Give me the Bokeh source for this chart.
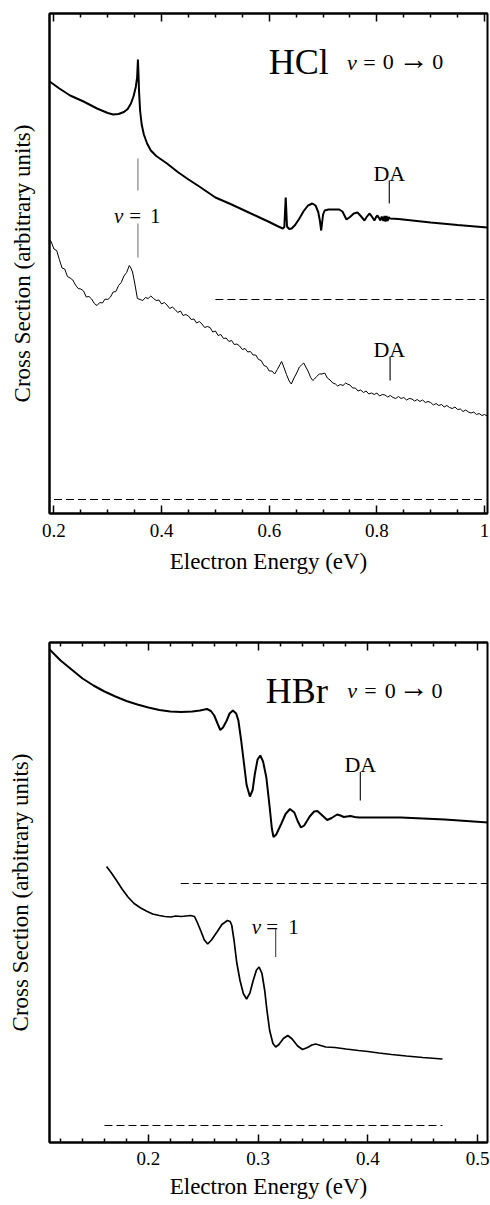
from bokeh.plotting import figure
from bokeh.models import LinearAxis, FixedTicker, Range1d
from bokeh.layouts import column
from bokeh.core.properties import value
from bokeh.embed import file_html
from bokeh.resources import INLINE

FONT = "Liberation Serif"
AXIS_FONT = "'Liberation Serif', serif"

# ---------------- HCl data ----------------
hcl_theory_x = [0.192, 0.21, 0.23, 0.255, 0.28, 0.30, 0.31, 0.32, 0.33, 0.337, 0.343, 0.348, 0.352,
                0.3545, 0.356, 0.357, 0.358, 0.36, 0.363, 0.367, 0.373, 0.38, 0.39, 0.41, 0.43, 0.45,
                0.47, 0.50, 0.53, 0.56, 0.58, 0.60, 0.615, 0.625, 0.628, 0.6306, 0.633, 0.637, 0.6417,
                0.648, 0.656, 0.664, 0.672, 0.68, 0.686, 0.691, 0.694, 0.6965, 0.698, 0.70, 0.703,
                0.71, 0.72, 0.73, 0.736, 0.7435, 0.75, 0.757, 0.7639, 0.77, 0.7769, 0.781, 0.7861,
                0.79, 0.7954, 0.798, 0.801, 0.804, 0.8065, 0.809, 0.812, 0.814, 0.816, 0.818, 0.82,
                0.822, 0.824, 0.84, 0.90, 0.95, 1.005]
hcl_theory_y = [86.4, 85.0, 83.6, 82.4, 81.0, 80.1, 79.8, 79.9, 80.3, 80.9, 82.0, 83.5, 85.3,
                87.2, 90.8, 88.0, 84.6, 80.6, 77.8, 75.8, 74.0, 72.6, 71.5, 70.0, 68.3, 66.8,
                65.4, 63.2, 61.8, 60.3, 59.3, 58.3, 57.5, 57.0, 57.3, 63.2, 57.4, 56.9, 57.0,
                57.7, 59.0, 60.5, 61.6, 62.0, 61.6, 60.3, 58.6, 56.6, 58.0, 59.8, 60.6,
                60.8, 60.8, 60.8, 60.4, 58.8, 59.3, 60.0, 60.2, 59.5, 58.6, 59.3, 60.0,
                59.5, 58.6, 59.2, 59.6, 59.1, 58.6, 59.4, 58.5, 59.5, 58.4, 59.5, 58.5,
                59.3, 59.0, 58.9, 58.2, 57.7, 57.2]

hcl_exp_x = [0.192, 0.195, 0.200, 0.205, 0.210, 0.215, 0.220, 0.225, 0.230, 0.235, 0.240, 0.245,
             0.250, 0.255, 0.260, 0.265, 0.270, 0.275, 0.280, 0.285, 0.290, 0.295, 0.300, 0.305,
             0.310, 0.315, 0.320, 0.325, 0.330, 0.335, 0.340, 0.343, 0.346, 0.350, 0.355, 0.360,
             0.365, 0.370, 0.375, 0.380, 0.385, 0.390, 0.395, 0.400, 0.405, 0.410, 0.415, 0.420,
             0.425, 0.430, 0.435, 0.440, 0.445, 0.450, 0.455, 0.460, 0.465, 0.470, 0.475, 0.480,
             0.485, 0.490, 0.495, 0.500, 0.505, 0.510, 0.515, 0.520, 0.525, 0.530, 0.535, 0.540,
             0.545, 0.550, 0.555, 0.560, 0.565, 0.570, 0.575, 0.580, 0.585, 0.590, 0.595, 0.600,
             0.605, 0.610, 0.615, 0.620, 0.623, 0.627, 0.632, 0.637, 0.641, 0.646, 0.651, 0.656,
             0.660, 0.664, 0.668, 0.672, 0.677, 0.681, 0.684, 0.688, 0.693, 0.698, 0.703, 0.708,
             0.713, 0.718, 0.723, 0.727, 0.732, 0.737, 0.742, 0.745, 0.750, 0.755, 0.760, 0.765,
             0.770, 0.775, 0.780, 0.785, 0.790, 0.795, 0.800, 0.805, 0.810, 0.815, 0.820, 0.825,
             0.830, 0.835, 0.840, 0.845, 0.850, 0.855, 0.860, 0.865, 0.870, 0.875, 0.880, 0.885,
             0.890, 0.895, 0.900, 0.905, 0.910, 0.915, 0.920, 0.925, 0.930, 0.935, 0.940, 0.945,
             0.950, 0.955, 0.960, 0.965, 0.970, 0.975, 0.980, 0.985, 0.990, 0.995, 1.000, 1.005]
hcl_exp_y = [54.8, 54.3, 52.9, 52.6, 50.8, 49.1, 48.9, 47.4, 47.1, 46.7, 45.7, 45.0,
             44.9, 44.5, 43.3, 43.4, 42.9, 42.0, 41.6, 42.2, 42.1, 42.9, 42.8, 43.3,
             44.3, 44.4, 45.6, 46.2, 47.5, 48.2, 49.6, 49.1, 48.3, 46.1, 43.0, 42.8,
             42.6, 43.2, 43.0, 43.5, 43.0, 42.6, 42.7, 41.9, 42.2, 41.7, 41.0, 41.3,
             40.8, 40.2, 40.5, 39.6, 39.8, 39.5, 38.8, 38.9, 38.1, 38.4, 37.9, 37.2,
             37.4, 37.2, 36.3, 36.5, 35.6, 35.8, 35.0, 35.1, 34.4, 34.6, 33.8, 33.9,
             33.5, 32.8, 33.0, 32.3, 32.4, 31.7, 31.7, 30.8, 30.6, 29.6, 29.4, 28.5,
             28.5, 27.9, 28.8, 29.8, 30.4, 29.3, 27.8, 26.5, 25.9, 27.1, 28.1, 29.3,
             29.7, 30.1, 29.3, 28.5, 27.2, 26.6, 26.9, 27.4, 27.9, 27.9, 28.1, 27.1,
             26.7, 26.1, 25.9, 25.5, 25.8, 25.6, 26.1, 25.9, 25.7, 25.1, 25.1, 24.5,
             24.7, 24.2, 24.5, 23.9, 24.1, 23.8, 24.1, 23.5, 23.8, 23.7, 23.3, 23.6,
             23.2, 23.0, 23.4, 23.0, 23.2, 22.7, 23.0, 22.9, 22.5, 22.8, 22.4, 22.7,
             22.2, 22.4, 22.2, 21.7, 22.0, 21.6, 21.8, 21.3, 21.6, 21.2, 21.0, 21.3,
             20.8, 20.9, 20.4, 20.7, 20.3, 20.1, 20.3, 19.8, 20.0, 19.6, 19.8, 19.5]

hcl_dash_upper_x = [0.5, 1.0]
hcl_dash_upper_y = [42.8, 42.8]
hcl_dash_lower_x = [0.2, 1.0]
hcl_dash_lower_y = [2.8, 2.8]

# ---------------- HBr data ----------------
hbr_theory_x = [0.11, 0.12, 0.13, 0.14, 0.15, 0.16, 0.17, 0.18, 0.19, 0.20, 0.21, 0.22, 0.23, 0.24,
                0.247, 0.2534, 0.257, 0.26, 0.263, 0.2655, 0.268, 0.2714, 0.274, 0.277, 0.28, 0.282,
                0.2845, 0.287, 0.2895, 0.2925, 0.295, 0.297, 0.2995, 0.302, 0.3045, 0.3075, 0.3105,
                0.3125, 0.314, 0.3165, 0.321, 0.325, 0.329, 0.333, 0.336, 0.339, 0.342, 0.347, 0.351,
                0.354, 0.358, 0.363, 0.367, 0.372, 0.375, 0.378, 0.381, 0.384, 0.388, 0.392, 0.43,
                0.47, 0.51]
hbr_theory_y = [98.6, 96.4, 94.6, 92.8, 91.4, 90.2, 89.2, 88.3, 87.6, 87.0, 86.5, 86.2, 86.1, 86.2,
                86.4, 86.7, 86.3, 85.4, 83.8, 82.5, 83.0, 84.4, 85.8, 86.4, 85.8, 84.4,
                80.5, 76.0, 71.5, 69.2, 70.5, 73.7, 76.6, 77.4, 76.2, 73.0, 67.1,
                62.8, 61.1, 61.6, 63.7, 65.7, 66.7, 66.0, 64.3, 63.0, 63.4, 65.2, 66.2,
                66.3, 65.5, 64.5, 64.9, 65.6, 65.4, 65.1, 65.2, 65.3, 65.1, 65.0, 65.0,
                64.6, 64.0]

hbr_exp_x = [0.1619, 0.166, 0.171, 0.176, 0.1814, 0.187, 0.193, 0.199, 0.2039, 0.21, 0.215, 0.2204,
             0.225, 0.23, 0.2384, 0.242, 0.2444, 0.248, 0.251, 0.254, 0.2575, 0.2625, 0.267, 0.272,
             0.2745, 0.276, 0.278, 0.2805, 0.2835, 0.2865, 0.2895, 0.2925, 0.2955, 0.2985, 0.3009,
             0.3035, 0.306, 0.308, 0.3105, 0.3135, 0.316, 0.319, 0.323, 0.327, 0.331, 0.336, 0.3405,
             0.345, 0.349, 0.3525, 0.357, 0.3616, 0.37, 0.38, 0.3915, 0.40, 0.41, 0.4216, 0.435,
             0.45, 0.468]
hbr_exp_y = [55.2, 54.0, 52.4, 50.7, 49.1, 47.8, 46.9, 46.2, 45.7, 45.4, 45.2, 45.1,
             45.3, 45.2, 45.4, 45.2, 44.1, 42.2, 40.5, 39.7, 40.5, 42.1, 43.6, 44.4,
             44.2, 43.4, 40.5, 36.0, 32.4, 29.8, 28.7, 29.9, 32.4, 34.5, 35.1,
             33.8, 30.4, 26.5, 22.4, 19.8, 19.1, 19.6, 20.8, 21.4, 20.7, 19.3, 18.6,
             19.0, 19.5, 19.7, 19.4, 19.1, 19.0, 18.7, 18.4, 18.2, 17.9, 17.6, 17.3,
             17.0, 16.7]

hbr_dash_upper_x = [0.2295, 0.51]
hbr_dash_upper_y = [51.8, 51.8]
hbr_dash_lower_x = [0.16, 0.468]
hbr_dash_lower_y = [3.4, 3.4]

# ---------------- ticks ----------------
hcl_major = [0.2, 0.4, 0.6, 0.8, 1.0]
hcl_minor = [0.25, 0.3, 0.35, 0.45, 0.5, 0.55, 0.65, 0.7, 0.75, 0.85, 0.9, 0.95]
hcl_labels = {0.2: "0.2", 0.4: "0.4", 0.6: "0.6", 0.8: "0.8", 1.0: "1"}
hbr_major = [0.2, 0.3, 0.4, 0.5]
hbr_minor = [0.12, 0.14, 0.16, 0.18, 0.22, 0.24, 0.26, 0.28, 0.32, 0.34, 0.36, 0.38,
             0.42, 0.44, 0.46, 0.48]
hbr_labels = {0.2: "0.2", 0.3: "0.3", 0.4: "0.4", 0.5: "0.5"}

# ---------------- annotations ----------------
hcl_title = dict(x=0.655, y=90.3, text="HCl")
hcl_eq_v = dict(x=0.7537, y=90.3)
hcl_eq_x = [0.786, 0.8213, 0.913]
hcl_eq_t = ["=", "0", "0"]
hcl_arrow_x = 0.8685
hcl_da_x = [0.823, 0.823]
hcl_da_y = [68.1, 32.9]
hcl_da_lines = [([0.823, 0.823], [66.6, 62.0]), ([0.8245, 0.8245], [31.3, 26.6])]
hcl_v1_x = [0.351, 0.388]
hcl_v1_t = ["=", "1"]
hcl_v1_v = dict(x=0.32, y=59.6)
hcl_v1_lines = [([0.356, 0.356], [71.0, 64.6]), ([0.356, 0.356], [58.0, 51.2])]

hbr_title = dict(x=0.3353, y=90.4, text="HBr")
hbr_eq_v = dict(x=0.3856, y=90.4)
hbr_eq_x = [0.4023, 0.4203, 0.463]
hbr_eq_t = ["=", "0", "0"]
hbr_arrow_x = 0.4419
hbr_da_x = [0.3931]
hbr_da_y = [75.7]
hbr_da_lines = [([0.3931, 0.3931], [74.1, 68.4])]
hbr_v1_x = [0.3128, 0.3323]
hbr_v1_t = ["=", "1"]
hbr_v1_v = dict(x=0.2985, y=43.1)
hbr_v1_lines = [([0.316, 0.316], [42.7, 37.1])]


def style_x_axis(ax, major, minor, labels, s1, s2):
    ax.ticker = FixedTicker(ticks=major, minor_ticks=minor)
    ax.major_tick_in = 8
    ax.major_tick_out = 0
    ax.minor_tick_in = 4
    ax.minor_tick_out = 0
    ax.major_tick_line_width = 1.5
    ax.minor_tick_line_width = 1.5
    ax.major_tick_line_color = "black"
    ax.minor_tick_line_color = "black"
    ax.axis_line_width = 2
    ax.axis_line_color = "black"
    ax.major_label_text_font = AXIS_FONT
    ax.major_label_text_font_size = "19px"
    ax.major_label_text_color = "black"
    if labels:
        ax.major_label_overrides = labels
        ax.major_label_standoff = s1
        ax.axis_label = "Electron Energy (eV)"
        ax.axis_label_text_font = AXIS_FONT
        ax.axis_label_text_font_size = "23px"
        ax.axis_label_text_font_style = "normal"
        ax.axis_label_text_color = "black"
        ax.axis_label_standoff = s2
    else:
        ax.major_label_overrides = {t: "" for t in major}
        ax.major_label_standoff = 0


def make_panel(xr, major, minor, labels, width, height, b_top, b_bottom, b_left, b_right,
               s1, s2, s_y):
    p = figure(width=width, height=height, x_range=Range1d(*xr), y_range=Range1d(0, 100),
               output_backend="svg", toolbar_location=None,
               min_border_left=b_left, min_border_right=b_right,
               min_border_top=b_top, min_border_bottom=b_bottom)
    p.grid.visible = False
    p.outline_line_color = "black"
    p.outline_line_width = 2
    p.background_fill_color = "white"
    p.border_fill_color = "white"
    style_x_axis(p.xaxis[0], major, minor, labels, s1, s2)
    top = LinearAxis()
    style_x_axis(top, major, minor, None, 0, 0)
    p.add_layout(top, "above")
    ya = p.yaxis[0]
    ya.ticker = FixedTicker(ticks=[])
    ya.major_label_standoff = 0
    ya.major_tick_out = 0
    ya.axis_line_width = 2
    ya.axis_line_color = "black"
    ya.axis_label = "Cross Section (arbitrary units)"
    ya.axis_label_text_font = AXIS_FONT
    ya.axis_label_text_font_size = "23px"
    ya.axis_label_text_font_style = "normal"
    ya.axis_label_text_color = "black"
    ya.axis_label_standoff = s_y
    return p


def add_text(p, xs, ys, texts, size, style="normal", color="black"):
    p.text(x=xs, y=ys, text=texts, text_font=value(FONT), text_font_size=size,
           text_font_style=style, text_align="center", text_baseline="alphabetic",
           text_color=color)


def annotate(p, title, eq_v, eq_x, eq_t, arrow_x, da_x, da_y, da_lines, v1_v, v1_x, v1_t,
             v1_lines, v1_color):
    add_text(p, [title["x"]], [title["y"]], [title["text"]], "36px")
    add_text(p, [eq_v["x"]], [eq_v["y"]], ["v"], "22px", style="italic")
    add_text(p, eq_x, [eq_v["y"]] * len(eq_x), eq_t, "22px")
    add_text(p, [arrow_x], [eq_v["y"] + 0.8], ["\u2192"], "30px")
    add_text(p, da_x, da_y, ["DA"] * len(da_x), "22px")
    for lx, ly in da_lines:
        p.line(lx, ly, line_color="black", line_width=1.1)
    add_text(p, [v1_v["x"]], [v1_v["y"]], ["v"], "21px", style="italic")
    add_text(p, v1_x, [v1_v["y"]] * len(v1_x), v1_t, "21px")
    for lx, ly in v1_lines:
        p.line(lx, ly, line_color=v1_color, line_width=1.1)


# ---------------- HCl panel ----------------
p1 = make_panel((0.1917, 1.0055), hcl_major, hcl_minor, hcl_labels, 490, 600, 13, 87, 49, 2,
                10, 9, 15)
p1.line(hcl_dash_upper_x, hcl_dash_upper_y, line_color="black", line_width=1.2, line_dash="8 4")
p1.line(hcl_dash_lower_x, hcl_dash_lower_y, line_color="black", line_width=1.2, line_dash="8 4")
p1.line(hcl_theory_x, hcl_theory_y, line_color="black", line_width=2)
p1.line(hcl_exp_x, hcl_exp_y, line_color="black", line_width=1.0)
annotate(p1, hcl_title, hcl_eq_v, hcl_eq_x, hcl_eq_t, hcl_arrow_x, hcl_da_x, hcl_da_y,
         hcl_da_lines, hcl_v1_v, hcl_v1_x, hcl_v1_t, hcl_v1_lines, "#777777")

# ---------------- HBr panel ----------------
p2 = make_panel((0.1099, 0.5090), hbr_major, hbr_minor, hbr_labels, 490, 605, 42, 63, 44, 3,
                9, 6, 17)
p2.line(hbr_dash_upper_x, hbr_dash_upper_y, line_color="black", line_width=1.2, line_dash="8 4")
p2.line(hbr_dash_lower_x, hbr_dash_lower_y, line_color="black", line_width=1.2, line_dash="8 4")
p2.line(hbr_theory_x, hbr_theory_y, line_color="black", line_width=2)
p2.line(hbr_exp_x, hbr_exp_y, line_color="black", line_width=1.7)
annotate(p2, hbr_title, hbr_eq_v, hbr_eq_x, hbr_eq_t, hbr_arrow_x, hbr_da_x, hbr_da_y,
         hbr_da_lines, hbr_v1_v, hbr_v1_x, hbr_v1_t, hbr_v1_lines, "#444444")

layout = column(p1, p2)
open("out.html", "w").write(file_html(layout, INLINE))
